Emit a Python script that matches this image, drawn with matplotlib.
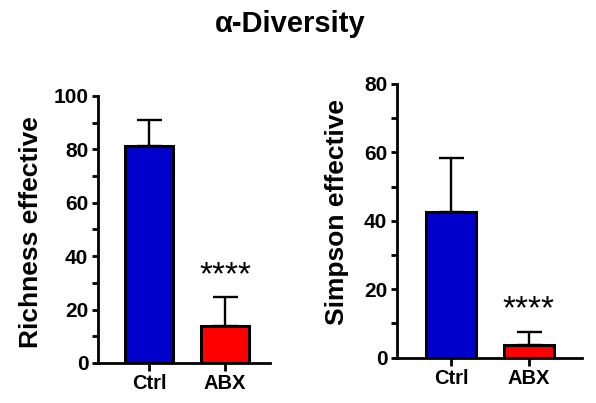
import numpy as np
from matplotlib import pyplot as plt

plt.rcParams['font.family'] = ['Liberation Sans', 'DejaVu Sans']
plt.rcParams['font.weight'] = 'bold'

groups = ["Ctrl", "ABX"]
colors = ['#0000CC', '#FF0000']

richness_mean = [81.3, 14.0]
richness_err = [9.8, 10.8]
simpson_mean = [42.6, 3.7]
simpson_err = [15.9, 3.8]

fig = plt.figure(figsize=(5.96, 4.03), dpi=100)
fig.text(0.487, 0.921, "\u03b1-Diversity", ha='center', va='baseline',
	fontsize=21, fontweight='bold')

def draw_panel(rect, means, errs, ymax, ylabel, xlim, width, star_y, label_xy):
	ax = fig.add_axes(rect)
	x = np.arange(len(groups))
	ax.errorbar(x, means, yerr=[np.zeros(len(errs)), errs], fmt='none',
		ecolor='black', elinewidth=1.7, capsize=9, capthick=1.7, zorder=1)
	ax.bar(x, means, width=width, color=colors, edgecolor='black',
		linewidth=2.2, zorder=2)
	ax.set_xlim(*xlim)
	ax.set_ylim(0, ymax)
	ax.set_yticks(np.arange(0, ymax + 1, 20))
	ax.set_yticks(np.arange(10, ymax, 20), minor=True)
	ax.set_xticks(x)
	ax.set_xticklabels(groups)
	ax.spines['top'].set_visible(False)
	ax.spines['right'].set_visible(False)
	for s in ['left', 'bottom']:
		ax.spines[s].set_linewidth(2.0)
	ax.tick_params(axis='y', which='major', length=4.5, width=2.0,
		labelsize=15, pad=2.5)
	ax.tick_params(axis='y', which='minor', length=4.5, width=2.0)
	ax.tick_params(axis='x', which='major', length=5.5, width=2.0,
		labelsize=14.5, pad=2.5)
	ax.set_ylabel(ylabel, fontsize=19, fontweight='bold', va='center')
	ax.yaxis.set_label_coords(*label_xy)
	ax.text(1, star_y, "****", ha='center', va='center', fontsize=24,
		fontweight='normal')
	return ax

draw_panel([0.1644, 0.0993, 0.2886, 0.6625], richness_mean, richness_err, 100,
	"Richness effective", (-0.67, 1.59), 0.63, 32.5, (-0.39, 0.49))
draw_panel([0.6661, 0.1124, 0.3104, 0.6792], simpson_mean, simpson_err, 80,
	"Simpson effective", (-0.70, 1.69), 0.645, 14.0, (-0.324, 0.532))

fig.savefig("out.png", dpi=100)
